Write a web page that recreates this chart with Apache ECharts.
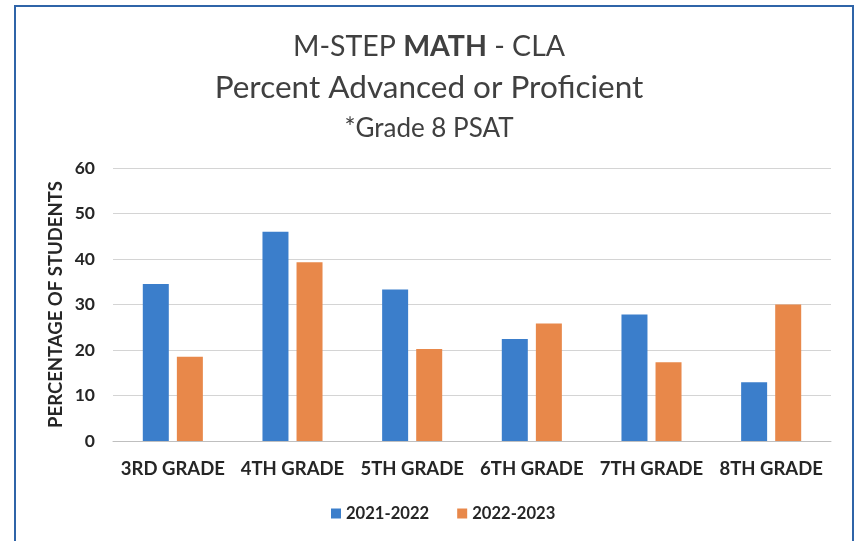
<!DOCTYPE html>
<html><head><meta charset="utf-8">
<script src="https://cdn.jsdelivr.net/npm/echarts@6/dist/echarts.min.js"></script>
<style>
html,body{margin:0;padding:0;background:#fff;}
#wrap{position:relative;width:858px;height:541px;overflow:hidden;}
#frame{position:absolute;left:14px;top:5px;width:840px;height:560px;border:2px solid #2f64a8;box-sizing:border-box;}
#chart{position:absolute;left:0;top:0;width:858px;height:541px;}
</style></head>
<body><div id="wrap"><div id="frame"></div><div id="chart"></div></div>
<script>
const categories = ['3RD GRADE','4TH GRADE','5TH GRADE','6TH GRADE','7TH GRADE','8TH GRADE'];
const series2122 = [34.5, 46.0, 33.3, 22.4, 27.8, 12.9];
const series2223 = [18.5, 39.3, 20.2, 25.8, 17.3, 30.0];
const seriesNames = ['2021-2022','2022-2023'];
const yTicks = [0,10,20,30,40,50,60];

const FONT = 'Lato';
const chart = echarts.init(document.getElementById('chart'), null, {renderer:'canvas'});
chart.setOption({
  backgroundColor: 'transparent',
  animation: false,
  title: [
    {text: '{n|M-STEP }{b|MATH}{n| - CLA}', left: 'center', top: 27,
     textStyle: {fontWeight: 'normal', rich: {
       n: {fontFamily: FONT, fontSize: 28.5, fontWeight: 'normal', color: '#404040'},
       b: {fontFamily: FONT, fontSize: 28.5, fontWeight: 'bold', color: '#404040'}
     }}},
    {text: 'Percent Advanced or Proficient', left: 'center', top: 67,
     textStyle: {fontFamily: FONT, fontSize: 31.5, fontWeight: 'normal', color: '#404040'}},
    {text: '*Grade 8 PSAT', left: 'center', top: 111,
     textStyle: {fontFamily: FONT, fontSize: 26, fontWeight: 'normal', color: '#404040'}}
  ],
  legend: {
    data: seriesNames, bottom: 14, left: 326,
    icon: 'rect', itemWidth: 10, itemHeight: 10, itemGap: 28,
    textStyle: {fontFamily: FONT, fontSize: 16.6, fontWeight: 'bold', color: '#262626'}
  },
  grid: {left: 113, right: 27, top: 168, bottom: 100, containLabel: false},
  xAxis: {
    type: 'category', data: categories,
    axisLine: {lineStyle: {color: '#bfbfbf'}},
    axisTick: {show: false},
    axisLabel: {interval: 0, fontFamily: FONT, fontSize: 18.5, fontWeight: 'bold', color: '#262626', margin: 19}
  },
  yAxis: {
    type: 'value', min: yTicks[0], max: yTicks[yTicks.length-1], interval: 10,
    name: 'PERCENTAGE OF STUDENTS', nameLocation: 'middle', nameGap: 47, nameMoveOverlap: false,
    nameTextStyle: {fontFamily: FONT, fontSize: 18.5, fontWeight: 'bold', color: '#262626'},
    axisLine: {show: false}, axisTick: {show: false},
    axisLabel: {fontFamily: FONT, fontSize: 17.5, fontWeight: 'bold', color: '#262626', margin: 18},
    splitLine: {lineStyle: {color: '#d4d4d4', width: 1}}
  },
  series: [
    {name: seriesNames[0], type: 'bar', data: series2122, barWidth: 26, barGap: '31%',
     itemStyle: {color: '#3b7ecb'}},
    {name: seriesNames[1], type: 'bar', data: series2223, barWidth: 26,
     itemStyle: {color: '#e8884a'}}
  ]
});
</script></body></html>
